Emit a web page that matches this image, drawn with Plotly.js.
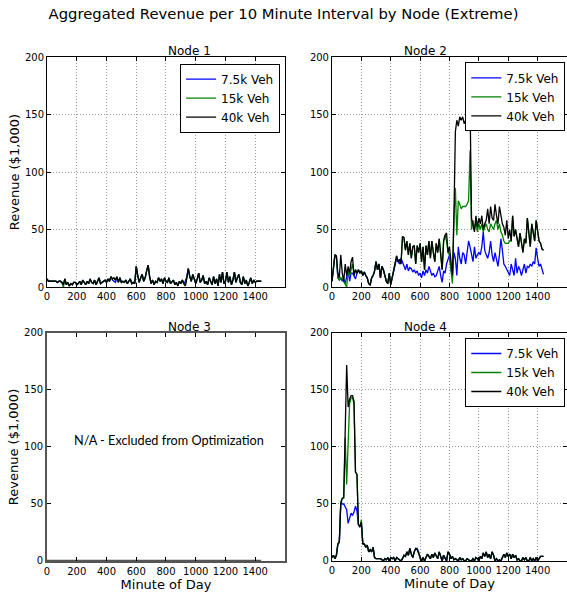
<!DOCTYPE html>
<html>
<head>
<meta charset="utf-8">
<script src="https://cdn.plot.ly/plotly-3.0.1.min.js"></script>
<style>html,body{margin:0;padding:0;background:#fff;}#chart{width:567px;height:594px;}</style>
</head>
<body>
<div id="chart"></div>
<script>
// ---- data: revenue ($1,000) per 10-minute interval, minutes 0..1440 ----
const seriesNames = ["7.5k Veh", "15k Veh", "40k Veh"];
const seriesColors = ["#0000ff", "#008000", "#000000"];
const xTicks = [0, 200, 400, 600, 800, 1000, 1200, 1400];
const yTicks = [0, 50, 100, 150, 200];

const node1_7k5 = [7,5,5,5,5,5,5,4,5,5, 4,2,7,2,4,1,3,2,4,4, 2,3,5,2,6,4,2,5,3,7, 4,3,6,2,5,8,3,4,5,6,
  4,7,5,9,6,5,4,8,4,8, 4,5,4,6,3,5,7,3,4,3, 18,10,4,8,11,5,8,14,19,9, 3,6,2,5,4,8,5,7,3,8,
  5,4,8,3,5,6,2,4,1,5, 3,6,3,5,9,16,9,5,11,6, 3,7,12,4,6,10,3,5,2,8, 4,2,9,3,7,1,11,4,13,3,
  5,13,4,9,2,6,13,4,8,11, 4,2,9,3,6,1,4,8,3,6, 4,5,5,5,5];
const node1_15k = [7,5,5,5,5,5,5,4,5,5, 4,0,7,2,4,1,3,2,4,4, 2,3,5,2,6,4,2,5,3,7, 4,3,6,2,5,8,3,4,5,6,
  4,7,5,9,7,8,6,9,4,8, 4,5,4,6,3,5,7,3,4,3, 18,10,4,8,11,5,8,14,19,9, 3,6,2,5,4,8,5,7,3,8,
  5,4,8,3,5,6,2,4,1,5, 3,6,3,1,8,16,9,5,11,6, 3,7,12,4,6,10,3,5,2,8, 4,2,9,3,7,1,11,4,13,3,
  5,13,4,9,2,6,13,4,8,11, 4,2,9,3,6,1,4,8,3,6, 4,5,5,5,5];
const node1_40k = [7,5,5,5,5,5,5,4,5,5, 4,2,7,2,4,1,3,2,4,4, 2,3,5,2,6,4,2,5,3,7, 4,3,6,2,5,8,3,4,5,6,
  4,7,5,9,7,8,6,9,4,8, 4,5,4,6,3,5,7,3,4,3, 18,10,4,8,11,5,8,14,19,9, 3,6,2,5,4,8,5,7,3,8,
  5,4,8,3,5,6,2,4,1,5, 3,6,3,1,8,16,9,5,11,6, 3,7,12,4,6,10,3,5,2,8, 4,2,9,3,7,1,11,4,13,3,
  5,13,4,9,2,6,13,4,8,11, 4,2,9,3,6,1,4,8,3,6, 4,5,5,5,5];

const node2_7k5 = [5,20,28,27,8,6,8,5,7,3, 8,15,5,12,12,10,7,12,15,12, 14,10,13,10,8,3,2,8,10,14,
  22,15,20,8,18,15,10,5,3,12, 2,8,15,20,25,22,20,25,22,18, 15,20,14,17,16,13,15,12,14,10,
  12,8,14,10,15,12,18,14,10,12, 9,10,14,18,10,4,14,12,20,25, 28,15,8,30,25,10,35,25,20,30,
  28,20,30,40,35,28,22,35,25,28, 30,28,35,48,32,28,25,30,40,28, 22,30,25,18,28,42,32,20,18,15,
  12,10,20,15,10,25,12,18,15,10, 15,20,12,18,17,20,18,22,20,34, 25,18,20,15,11];
const node2_15k = [5,20,28,27,8,6,8,7,5,2, 0,14,10,15,20,10,15,12,15,12, 14,10,13,10,8,3,2,8,10,14,
  22,15,20,8,18,15,10,5,3,12, 2,8,15,20,27,22,24,20,44,43, 32,40,28,38,25,35,36,20,36,30,
  38,22,35,15,36,28,40,25,40,30, 22,38,30,42,25,15,40,45,40,30, 28,15,3,60,86,45,75,72,68,70,
  70,70,72,75,119,50,58,50,57,48, 55,50,55,48,52,55,50,48,55,52, 50,55,58,50,55,48,45,40,38,38,
  38,40,40,62,44,50,42,35,47,40, 30,42,38,60,48,35,55,45,40,58, 48,40,38,33,32];
const node2_40k = [5,20,28,27,12,8,28,12,5,20, 10,18,12,22,26,10,15,12,15,12, 14,10,13,10,8,3,2,8,10,14,
  22,15,20,8,18,15,10,5,3,12, 2,8,15,20,27,22,24,20,44,43, 32,40,28,38,25,35,36,20,36,30,
  38,22,35,15,36,28,40,25,40,30, 22,38,30,42,25,15,40,45,47,30, 35,20,10,60,135,145,140,148,145,148,
  142,145,140,148,160,60,55,48,62,52, 60,55,62,50,55,58,68,55,70,60, 58,72,62,55,70,60,55,52,45,58,
  42,50,40,62,44,50,42,35,47,40, 30,42,38,60,48,35,55,45,40,58, 48,40,38,33,32];

const node3_minutes = [0, 1440];
const node3_values = [0, 0];

const node4_7k5 = [3,5,2,5,15,16,52,50,50,48, 45,33,38,42,40,43,48,44,32,30, 32,15,15,12,14,8,10,8,12,3,
  2,2,2,2,1,0,2,1,3,0, 3,2,3,0,3,2,1,0,2,5, 4,8,5,11,6,3,8,11,11,8, 2,0,3,0,3,6,4,2,6,3,
  7,5,2,8,4,0,5,3,0,8, 6,2,4,1,2,1,0,3,1,2, 0,0,2,1,0,0,2,0,3,2, 0,4,2,7,4,8,3,6,2,8,
  5,0,2,0,1,0,4,6,3,7, 4,6,2,6,3,5,1,2,0,0, 3,1,3,0,0,3,0,2,0,3, 0,2,4,4,4];
const node4_15k = [3,5,2,5,15,17,52,55,55,108, 67,110,138,143,143,138,78,76,32,30, 36,15,15,12,14,8,10,8,12,3,
  2,2,2,2,1,0,2,1,3,0, 3,2,3,0,3,2,1,0,2,5, 4,8,5,11,6,3,8,11,10,6, 2,0,3,0,3,6,4,2,6,3,
  7,5,2,8,4,0,5,3,0,8, 6,2,4,1,2,1,0,3,1,2, 0,0,2,1,0,0,2,0,3,2, 0,4,2,7,4,8,3,6,2,8,
  5,0,2,0,1,0,4,6,3,7, 4,6,2,6,3,5,1,2,0,0, 3,1,3,0,0,3,0,2,0,3, 0,2,4,4,4];
const node4_40k = [3,5,2,5,15,17,50,55,56,110, 172,135,142,145,145,140,78,76,32,30, 34,15,15,12,14,8,10,8,12,3,
  2,2,2,2,1,0,2,1,3,0, 3,2,3,0,3,2,1,0,2,5, 4,8,5,11,6,3,8,11,10,6, 2,0,3,0,3,6,4,2,6,3,
  7,5,2,8,4,0,5,3,0,8, 6,2,4,1,2,1,0,3,1,2, 0,0,2,1,0,0,2,0,3,2, 0,4,2,7,4,8,3,6,2,8,
  5,0,2,0,1,0,4,6,3,7, 4,6,2,6,3,5,1,2,0,0, 3,1,3,0,0,3,0,2,0,3, 0,2,4,4,4];

const minutes = node1_40k.map((_, i) => i * 10);

// ---- traces ----
const FONT = "DejaVu Sans, sans-serif";
const traces = [];
function addNode(seriesList, xa, ya, legendId) {
  seriesList.forEach((vals, k) => {
    traces.push({
      x: minutes, y: vals, type: "scatter", mode: "lines",
      name: seriesNames[k], xaxis: xa, yaxis: ya,
      line: {color: seriesColors[k], width: 1.3},
      legend: legendId, showlegend: true, hoverinfo: "skip"
    });
  });
}
addNode([node1_7k5, node1_15k, node1_40k], "x", "y", "legend");
addNode([node2_7k5, node2_15k, node2_40k], "x2", "y2", "legend2");
traces.push({x: node3_minutes, y: node3_values, type: "scatter", mode: "lines",
  xaxis: "x3", yaxis: "y3", line: {color: "#555555", width: 2.5}, showlegend: false, hoverinfo: "skip"});
addNode([node4_7k5, node4_15k, node4_40k], "x4", "y4", "legend3");

const GRIDDASH = "1px,2px";
function xAx(domain, anchor, grid, title, lc, lw) {
  return {domain: domain, anchor: anchor, range: [0, 1600], tickvals: xTicks, tickangle: 0,
    showgrid: grid, gridcolor: "#9a9a9a", griddash: GRIDDASH, gridwidth: 1,
    zeroline: false, showline: true, linecolor: lc || "#000", linewidth: lw || 1, mirror: "allticks",
    ticks: "inside", ticklen: 4, tickcolor: "#000",
    tickfont: {family: FONT, size: 10, color: "#000"},
    title: title ? {text: title, font: {family: FONT, size: 13, color: "#000"}, standoff: 3} : undefined};
}
function yAx(domain, anchor, grid, title, lc, lw) {
  return {domain: domain, anchor: anchor, range: [0, 200], tickvals: yTicks,
    showgrid: grid, gridcolor: "#9a9a9a", griddash: GRIDDASH, gridwidth: 1,
    zeroline: false, showline: true, linecolor: lc || "#000", linewidth: lw || 1, mirror: "allticks",
    ticks: "inside", ticklen: 4, tickcolor: "#000",
    tickfont: {family: FONT, size: 10, color: "#000"},
    title: title ? {text: title, font: {family: FONT, size: 13, color: "#000"}, standoff: 2} : undefined};
}

const dxL = [0.0829, 0.5026], dxR = [0.5855, 1.0];
const dyT = [0.5168, 0.904], dyB = [0.0556, 0.4394];

function legendCfg(x, y) {
  return {x: x, y: y, xanchor: "right", yanchor: "top", xref: "paper", yref: "paper",
    bgcolor: "#fff", bordercolor: "#000", borderwidth: 1,
    font: {family: FONT, size: 12, color: "#000"}, itemwidth: 30, tracegroupgap: 0};
}

const layout = {
  width: 567, height: 594,
  margin: {l: 0, r: 0, t: 0, b: 0},
  paper_bgcolor: "#fff", plot_bgcolor: "#fff",
  font: {family: FONT, color: "#000"},
  title: {text: "Aggregated Revenue per 10 Minute Interval by Node (Extreme)",
    font: {family: FONT, size: 14.8, color: "#000"}, x: 0.5, xanchor: "center", y: 0.976, yanchor: "middle"},
  xaxis: xAx(dxL, "y", true),
  yaxis: yAx(dyT, "x", true, "Revenue ($1,000)"),
  xaxis2: xAx(dxR, "y2", true),
  yaxis2: yAx(dyT, "x2", true),
  xaxis3: xAx(dxL, "y3", false, "Minute of Day", "#555", 1.8),
  yaxis3: yAx(dyB, "x3", false, "Revenue ($1,000)", "#555", 1.8),
  xaxis4: xAx(dxR, "y4", true, "Minute of Day"),
  yaxis4: yAx(dyB, "x4", true),
  legend: legendCfg(0.494, 0.893),
  legend2: legendCfg(0.997, 0.895),
  legend3: legendCfg(0.997, 0.431),
  annotations: [
    {text: "Node 1", x: (dxL[0] + dxL[1]) / 2, y: dyT[1], xref: "paper", yref: "paper", yanchor: "bottom", yshift: -3, showarrow: false, font: {family: FONT, size: 12, color: "#000"}},
    {text: "Node 2", x: (dxR[0] + dxR[1]) / 2, y: dyT[1], xref: "paper", yref: "paper", yanchor: "bottom", yshift: -3, showarrow: false, font: {family: FONT, size: 12, color: "#000"}},
    {text: "Node 3", x: (dxL[0] + dxL[1]) / 2, y: dyB[1], xref: "paper", yref: "paper", yanchor: "bottom", yshift: -3, showarrow: false, font: {family: FONT, size: 12, color: "#000"}},
    {text: "Node 4", x: (dxR[0] + dxR[1]) / 2, y: dyB[1], xref: "paper", yref: "paper", yanchor: "bottom", yshift: -3, showarrow: false, font: {family: FONT, size: 12, color: "#000"}},
    {text: "N/A - Excluded from Optimization", x: 820, y: 106, xref: "x3", yref: "y3", showarrow: false, font: {family: "Lato, sans-serif", size: 12.7, color: "#000"}}
  ]
};

Plotly.newPlot("chart", traces, layout, {staticPlot: true, displayModeBar: false});
</script>
</body>
</html>
